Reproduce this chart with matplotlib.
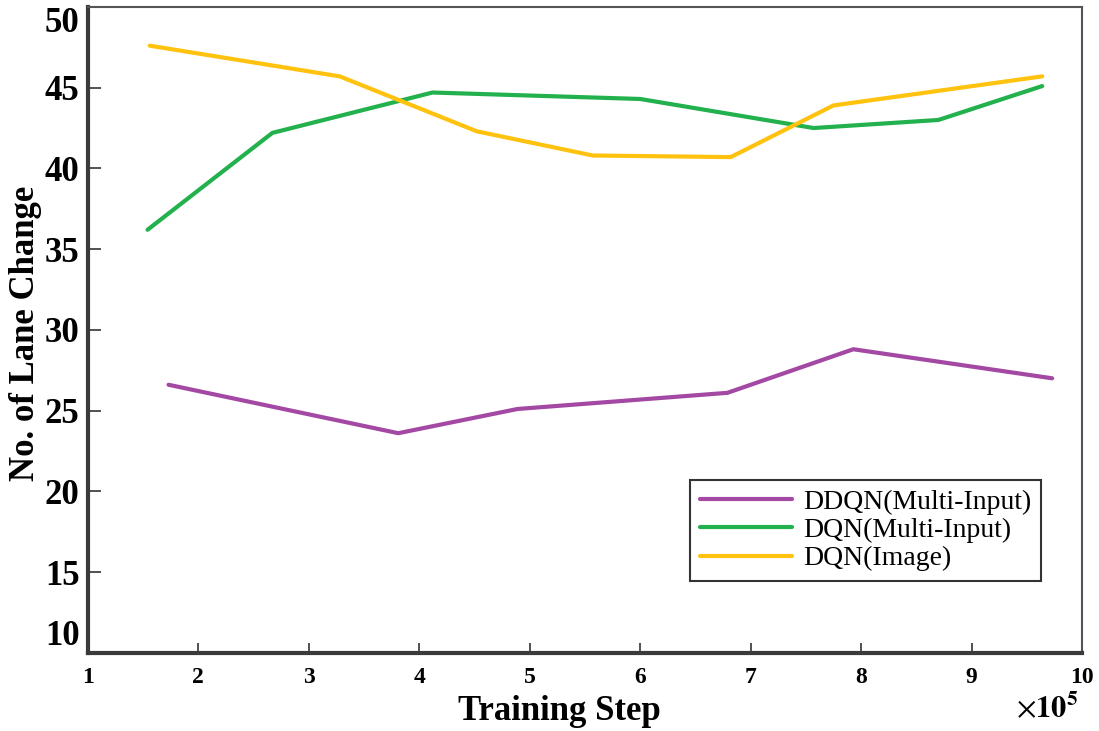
import matplotlib
matplotlib.use("Agg")
import matplotlib.pyplot as plt

# Training step (x 1e5) and number of lane changes per agent
ddqn_multi_x = [1.73, 3.81, 4.89, 6.79, 7.93, 9.73]
ddqn_multi_y = [26.6, 23.6, 25.1, 26.1, 28.8, 27.0]

dqn_multi_x = [1.54, 2.67, 4.12, 6.00, 7.57, 8.70, 9.64]
dqn_multi_y = [36.2, 42.2, 44.7, 44.3, 42.5, 43.0, 45.1]

dqn_image_x = [1.56, 3.28, 4.52, 5.57, 6.82, 7.75, 9.64]
dqn_image_y = [47.6, 45.7, 42.3, 40.8, 40.7, 43.9, 45.7]

labels = ["DDQN(Multi-Input)", "DQN(Multi-Input)", "DQN(Image)"]
colors = ["#a349a4", "#22b14c", "#ffc20e"]

x_ticks = [1, 2, 3, 4, 5, 6, 7, 8, 9, 10]
y_ticks = [10, 15, 20, 25, 30, 35, 40, 45, 50]

plt.rcParams["font.family"] = ["Liberation Serif", "DejaVu Serif"]

fig = plt.figure(figsize=(10.99, 7.31), dpi=100)
ax = fig.add_axes([0.080, 0.107, 0.9045, 0.8835])

series = [
    (ddqn_multi_x, ddqn_multi_y),
    (dqn_multi_x, dqn_multi_y),
    (dqn_image_x, dqn_image_y),
]
for (xs, ys), lab, c in zip(series, labels, colors):
    ax.plot(xs, ys, color=c, lw=3, label=lab, solid_capstyle="round")

ax.set_xlim(1, 10)
ax.set_ylim(10, 49.75)
ax.set_xticks(x_ticks)
ax.set_yticks(y_ticks)
ax.set_xticklabels([str(v) for v in x_ticks], fontsize=17, fontweight="bold")
ytl = ax.set_yticklabels([str(v) for v in y_ticks], fontsize=25, fontweight="bold")
# keep the end labels inside the frame
ytl[0].set_va("bottom")
ytl[-1].set_va("top")
ax.tick_params(axis="y", direction="in", length=9, width=1.2, pad=6, colors="#333333",
               labelcolor="black")
ax.tick_params(axis="x", direction="in", length=7, width=1.2, pad=10, colors="#333333",
               labelcolor="black")

for side in ("left", "bottom"):
    ax.spines[side].set_linewidth(3)
    ax.spines[side].set_color("#3a3a3a")
for side in ("top", "right"):
    ax.spines[side].set_linewidth(1.5)
    ax.spines[side].set_color("#555555")

ax.set_xlabel("Training Step", fontsize=25, fontweight="bold")
ax.xaxis.set_label_coords(0.474, -0.066)
ax.set_ylabel("No. of Lane Change", fontsize=25, fontweight="bold")
ax.yaxis.set_label_coords(-0.046, 0.494)

# multiplier for the step axis
fig.text(0.981, 0.029, r"$\times\mathbf{10^5}$", fontsize=22, ha="right", va="center",
         fontweight="bold", math_fontfamily="stix")

leg = ax.legend(loc="upper left", bbox_to_anchor=(0.606, 0.268), fontsize=20,
                frameon=True, fancybox=False, handlelength=3.3, handletextpad=0.4,
                labelspacing=0.1, borderpad=0.35, borderaxespad=0)
leg.get_frame().set_edgecolor("black")
leg.get_frame().set_linewidth(1.5)

fig.savefig("out.png", dpi=100)
